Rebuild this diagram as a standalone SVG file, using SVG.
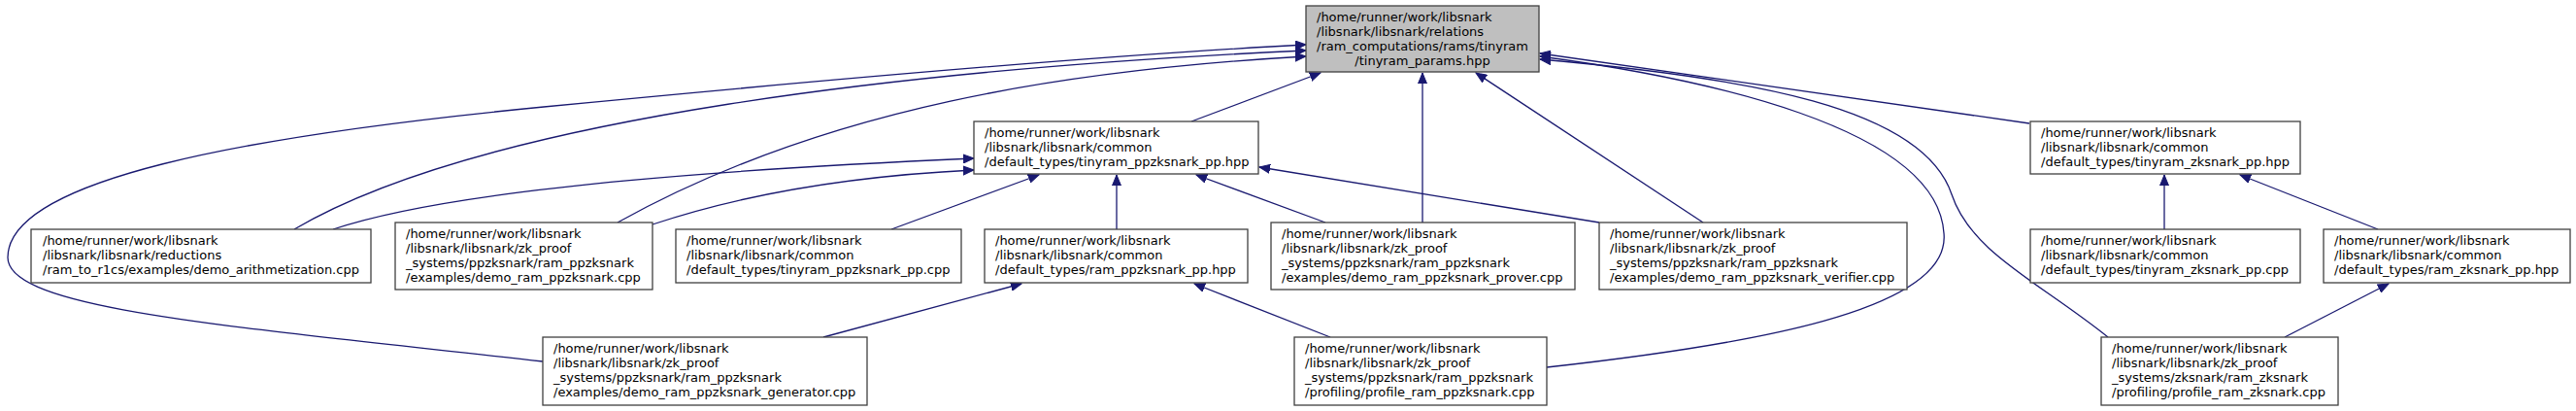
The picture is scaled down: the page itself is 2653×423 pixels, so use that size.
<svg xmlns="http://www.w3.org/2000/svg" width="2653" height="423" viewBox="0 0 2653 423">
<style>
.bg{fill:#ffffff}
.n rect{fill:#ffffff;stroke:#404040;stroke-width:1.3}
.n.root rect{fill:#bfbfbf}
.n text{font-family:"DejaVu Sans",sans-serif;font-size:13px;fill:#000000}
.e path{fill:none;stroke:#191970;stroke-width:1.3;marker-end:url(#ah)}
</style>
<defs>
<marker id="ah" markerWidth="12" markerHeight="10" refX="11" refY="5" orient="auto" markerUnits="userSpaceOnUse">
<path d="M0,0.5 L11,5 L0,9.5 z" fill="#191970" stroke="#191970" stroke-width="1"/>
</marker>
</defs>
<rect class="bg" x="0" y="0" width="2653" height="423"/>
<g id="edges" class="e">
<path d="M559,372 C230,335 8,318 8,265 C8,185 250,140 560,110 C850,82 1150,56 1345,46"/>
<path d="M303,236 C500,120 950,70 1345,52"/>
<path d="M636,229 C850,110 1100,72 1345,58"/>
<path d="M1227,125 L1360,75"/>
<path d="M1465,229 L1465,75"/>
<path d="M1754,229 L1520,75"/>
<path d="M2090,127 L1586,55"/>
<path d="M1593,378 C1800,355 2010,320 2002,240 C1995,130 1750,80 1586,58"/>
<path d="M2171,347 C2100,290 2030,260 2010,200 C1980,110 1800,80 1586,61"/>
<path d="M343,236 C480,190 800,172 1003,163"/>
<path d="M672,231 C780,195 900,180 1003,175"/>
<path d="M918,236 L1070,180"/>
<path d="M1150,236 L1150,180"/>
<path d="M1365,229 L1232,180"/>
<path d="M1647,229 L1297,172"/>
<path d="M848,347 L1052,292"/>
<path d="M1370,347 L1230,292"/>
<path d="M2229,236 L2229,180"/>
<path d="M2449,236 L2307,180"/>
<path d="M2353,347 L2460,292"/>
</g>
<g id="n0" class="n root">
<rect x="1345" y="6" width="240" height="68"/>
<text x="1356" y="22">/home/runner/work/libsnark</text>
<text x="1356" y="37">/libsnark/libsnark/relations</text>
<text x="1356" y="52">/ram_computations/rams/tinyram</text>
<text x="1465" y="67" text-anchor="middle">/tinyram_params.hpp</text>
</g>
<g id="n1" class="n">
<rect x="1003" y="125" width="293" height="54"/>
<text x="1014" y="141">/home/runner/work/libsnark</text>
<text x="1014" y="156">/libsnark/libsnark/common</text>
<text x="1014" y="171">/default_types/tinyram_ppzksnark_pp.hpp</text>
</g>
<g id="n2" class="n">
<rect x="32" y="236" width="350" height="55"/>
<text x="44" y="252">/home/runner/work/libsnark</text>
<text x="44" y="267">/libsnark/libsnark/reductions</text>
<text x="44" y="282">/ram_to_r1cs/examples/demo_arithmetization.cpp</text>
</g>
<g id="n3" class="n">
<rect x="407" y="229" width="265" height="69"/>
<text x="418" y="245">/home/runner/work/libsnark</text>
<text x="418" y="260">/libsnark/libsnark/zk_proof</text>
<text x="418" y="275">_systems/ppzksnark/ram_ppzksnark</text>
<text x="418" y="290">/examples/demo_ram_ppzksnark.cpp</text>
</g>
<g id="n4" class="n">
<rect x="696" y="236" width="294" height="55"/>
<text x="707" y="252">/home/runner/work/libsnark</text>
<text x="707" y="267">/libsnark/libsnark/common</text>
<text x="707" y="282">/default_types/tinyram_ppzksnark_pp.cpp</text>
</g>
<g id="n5" class="n">
<rect x="1014" y="236" width="271" height="55"/>
<text x="1025" y="252">/home/runner/work/libsnark</text>
<text x="1025" y="267">/libsnark/libsnark/common</text>
<text x="1025" y="282">/default_types/ram_ppzksnark_pp.hpp</text>
</g>
<g id="n6" class="n">
<rect x="1309" y="229" width="313" height="69"/>
<text x="1320" y="245">/home/runner/work/libsnark</text>
<text x="1320" y="260">/libsnark/libsnark/zk_proof</text>
<text x="1320" y="275">_systems/ppzksnark/ram_ppzksnark</text>
<text x="1320" y="290">/examples/demo_ram_ppzksnark_prover.cpp</text>
</g>
<g id="n7" class="n">
<rect x="1647" y="229" width="317" height="69"/>
<text x="1658" y="245">/home/runner/work/libsnark</text>
<text x="1658" y="260">/libsnark/libsnark/zk_proof</text>
<text x="1658" y="275">_systems/ppzksnark/ram_ppzksnark</text>
<text x="1658" y="290">/examples/demo_ram_ppzksnark_verifier.cpp</text>
</g>
<g id="n8" class="n">
<rect x="2091" y="125" width="278" height="54"/>
<text x="2102" y="141">/home/runner/work/libsnark</text>
<text x="2102" y="156">/libsnark/libsnark/common</text>
<text x="2102" y="171">/default_types/tinyram_zksnark_pp.hpp</text>
</g>
<g id="n9" class="n">
<rect x="2091" y="236" width="278" height="55"/>
<text x="2102" y="252">/home/runner/work/libsnark</text>
<text x="2102" y="267">/libsnark/libsnark/common</text>
<text x="2102" y="282">/default_types/tinyram_zksnark_pp.cpp</text>
</g>
<g id="n10" class="n">
<rect x="2393" y="236" width="254" height="55"/>
<text x="2404" y="252">/home/runner/work/libsnark</text>
<text x="2404" y="267">/libsnark/libsnark/common</text>
<text x="2404" y="282">/default_types/ram_zksnark_pp.hpp</text>
</g>
<g id="n11" class="n">
<rect x="559" y="347" width="334" height="70"/>
<text x="570" y="363">/home/runner/work/libsnark</text>
<text x="570" y="378">/libsnark/libsnark/zk_proof</text>
<text x="570" y="393">_systems/ppzksnark/ram_ppzksnark</text>
<text x="570" y="408">/examples/demo_ram_ppzksnark_generator.cpp</text>
</g>
<g id="n12" class="n">
<rect x="1333" y="347" width="260" height="70"/>
<text x="1344" y="363">/home/runner/work/libsnark</text>
<text x="1344" y="378">/libsnark/libsnark/zk_proof</text>
<text x="1344" y="393">_systems/ppzksnark/ram_ppzksnark</text>
<text x="1344" y="408">/profiling/profile_ram_ppzksnark.cpp</text>
</g>
<g id="n13" class="n">
<rect x="2164" y="347" width="244" height="70"/>
<text x="2175" y="363">/home/runner/work/libsnark</text>
<text x="2175" y="378">/libsnark/libsnark/zk_proof</text>
<text x="2175" y="393">_systems/zksnark/ram_zksnark</text>
<text x="2175" y="408">/profiling/profile_ram_zksnark.cpp</text>
</g>
</svg>
